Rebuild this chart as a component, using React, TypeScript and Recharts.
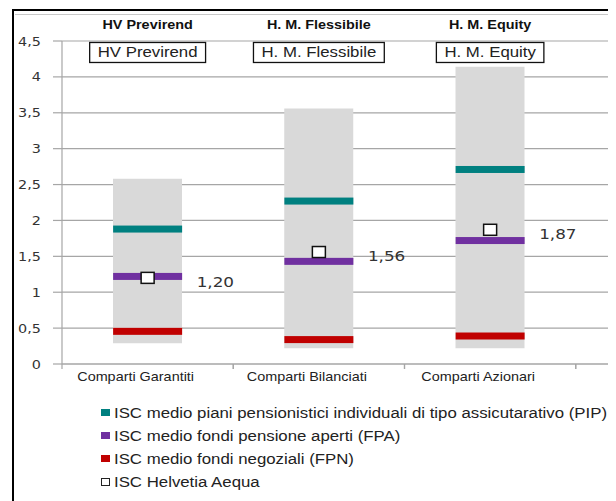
import React from 'react'
import { ComposedChart, Bar, Line, XAxis, YAxis, CartesianGrid, Legend, ReferenceDot } from 'recharts'

// data
const categories = ['Comparti Garantiti', 'Comparti Bilanciati', 'Comparti Azionari', '']
const funds = ['HV Previrend', 'H. M. Flessibile', 'H. M. Equity', '']
const rangeLow = [0.29, 0.22, 0.22, null]
const rangeHigh = [2.58, 3.56, 4.14, null]
const pip = [1.88, 2.27, 2.71, null]
const fpa = [1.22, 1.43, 1.72, null]
const fpn = [0.455, 0.34, 0.39, null]
const aequa = [1.2, 1.56, 1.87, null]
const yTicks = [0, 0.5, 1, 1.5, 2, 2.5, 3, 3.5, 4, 4.5]
const boxLevel = 4.34

const legendItems = [
  { name: 'ISC medio piani pensionistici individuali di tipo assicutarativo (PIP)', color: '#008080' },
  { name: 'ISC medio fondi pensione aperti (FPA)', color: '#7030A0' },
  { name: 'ISC medio fondi negoziali (FPN)', color: '#C00000' },
  { name: 'ISC Helvetia Aequa', color: '#FFFFFF', outline: true },
]

const data = categories.map((name, i) => ({
  name,
  fund: funds[i],
  range: rangeLow[i] == null ? null : [rangeLow[i], rangeHigh[i]],
  pip: pip[i],
  fpa: fpa[i],
  fpn: fpn[i],
  aequa: aequa[i],
}))

const CHART_W = 740
const CHART_H = 493
const Y_W = 54
const MARGIN = { top: 0, right: 1, bottom: 0, left: 0 }
const BAND = (CHART_W - MARGIN.left - MARGIN.right - Y_W) / categories.length
const BAR_W = 69
const GRID = '#A6A6A6'
const SX = 1.2 // the source picture is stretched sideways
const SANS = '"Liberation Sans", Arial, sans-serif'
const VERD = '"DejaVu Sans", Verdana, sans-serif'

const comma = (v: number, d?: number) => (d == null ? String(v) : v.toFixed(d)).replace('.', ',')

let ctx: CanvasRenderingContext2D | null = null
function textWidth(t: string, font: string) {
  if (!ctx) ctx = document.createElement('canvas').getContext('2d')
  if (!ctx) return t.length * 7
  ctx.font = font
  return ctx.measureText(t).width
}

function SText({ x, y, anchor = 'start', children, ...rest }: any) {
  return (
    <text transform={`translate(${x},${y}) scale(${SX},1)`} textAnchor={anchor} {...rest}>
      {children}
    </text>
  )
}

const YTick = ({ x, y, payload }: any) => (
  <SText x={x} y={y + 4.5} anchor="end" fontFamily={VERD} fontSize={12} fill="#333">
    {comma(payload.value)}
  </SText>
)

const BottomTick = ({ x, y, payload }: any) => (
  <g>
    <line x1={x - BAND / 2} x2={x - BAND / 2} y1={y} y2={y + 5} stroke={GRID} strokeWidth={1.2} />
    <line x1={x + BAND / 2} x2={x + BAND / 2} y1={y} y2={y + 5} stroke={GRID} strokeWidth={1.2} />
    <SText x={x - 12} y={y + 17} anchor="middle" fontFamily={SANS} fontSize={12} fill="#222">
      {payload.value}
    </SText>
  </g>
)

const TopTick = ({ x, y, payload }: any) => (
  <SText x={x} y={y} anchor="middle" fontFamily={SANS} fontSize={12} fontWeight="bold" fill="#111">
    {payload.value}
  </SText>
)

const markerDot = (color: string) => (props: any) => {
  const { cx, cy, index } = props
  if (cx == null || cy == null || props.value == null) return <g key={`m-${index}`} />
  return <rect key={`m-${index}`} x={cx - BAR_W / 2} y={cy - 3.5} width={BAR_W} height={7} fill={color} />
}

const aequaDot = (props: any) => {
  const { cx, cy, index } = props
  if (cx == null || cy == null || props.value == null) return <g key={`a-${index}`} />
  return <rect key={`a-${index}`} x={cx - 6.5} y={cy - 5.5} width={13} height={11} fill="#fff" stroke="#111" strokeWidth={1.5} />
}

const AequaLabel = (props: any) => {
  const { x, y, value } = props
  if (value == null) return null
  return (
    <SText x={x + 49} y={y + 9} fontFamily={VERD} fontSize={14} fill="#333">
      {comma(value, 2)}
    </SText>
  )
}

const FundBox = (name: string) => (props: any) => {
  const { cx, cy } = props
  const w = textWidth(name, `14px ${SANS}`) * SX + 16
  return (
    <g>
      <rect x={cx - w / 2} y={cy - 10} width={w} height={20} fill="#fff" stroke="#111" strokeWidth={1.3} />
      <SText x={cx} y={cy + 5} anchor="middle" fontFamily={SANS} fontSize={14} fill="#222">
        {name}
      </SText>
    </g>
  )
}

const LegendContent = () => (
  <div style={{ height: 100, fontFamily: SANS, fontSize: 14, color: '#222' }}>
    {legendItems.map((it) => (
      <div key={it.name} style={{ height: 23, display: 'flex', alignItems: 'center' }}>
        <span
          style={{
            display: 'inline-block',
            width: it.outline ? 7 : 9,
            height: it.outline ? 6 : 7,
            background: it.color,
            border: it.outline ? '1px solid #222' : 'none',
            marginRight: it.outline ? 4 : 4,
          }}
        />
        <span style={{ display: 'inline-block', whiteSpace: 'nowrap', transform: `scaleX(${SX})`, transformOrigin: 'left center' }}>
          {it.name}
        </span>
      </div>
    ))}
  </div>
)

export default function App() {
  return (
    <div style={{ position: 'relative', width: 608, height: CHART_H, overflow: 'hidden' }}>
      <div style={{ position: 'absolute', left: 4, top: 1, width: 1.5, height: 600, background: '#000' }} />
      <div style={{ position: 'absolute', left: 4, top: 1, width: 700, height: 1.5, background: '#000' }} />
      <div style={{ position: 'absolute', left: 7, top: 5.5, width: 700, height: 1.5, background: '#C8C8C8' }} />
      <div style={{ position: 'absolute', left: 0, top: 0 }}>
        <ComposedChart width={CHART_W} height={CHART_H} data={data} margin={MARGIN}>
          <CartesianGrid vertical={false} stroke={GRID} strokeWidth={1.2} />
          <XAxis
            dataKey="name"
            height={37}
            stroke={GRID}
            strokeWidth={1.2}
            tickLine={false}
            tickSize={0}
            tickMargin={0}
            tick={<BottomTick />}
            interval={0}
          />
          <XAxis
            xAxisId="top"
            dataKey="fund"
            orientation="top"
            height={33}
            axisLine={false}
            tickLine={false}
            tickSize={0}
            tickMargin={12}
            tick={<TopTick />}
            interval={0}
          />
          <YAxis
            width={Y_W}
            domain={[0, 4.5]}
            ticks={yTicks}
            stroke={GRID}
            strokeWidth={1.2}
            tickSize={9}
            tickMargin={12}
            tick={<YTick />}
            interval={0}
          />
          <Bar dataKey="range" fill="#D9D9D9" barSize={BAR_W} isAnimationActive={false} legendType="none" />
          <Line dataKey="pip" stroke="none" dot={markerDot('#008080')} activeDot={false} isAnimationActive={false} legendType="none" />
          <Line dataKey="fpa" stroke="none" dot={markerDot('#7030A0')} activeDot={false} isAnimationActive={false} legendType="none" />
          <Line dataKey="fpn" stroke="none" dot={markerDot('#C00000')} activeDot={false} isAnimationActive={false} legendType="none" />
          <Line
            dataKey="aequa"
            stroke="none"
            dot={aequaDot}
            activeDot={false}
            label={<AequaLabel />}
            isAnimationActive={false}
            legendType="none"
          />
          {funds.slice(0, 3).map((f, i) => (
            <ReferenceDot key={f} x={categories[i]} y={boxLevel} r={0} ifOverflow="visible" shape={FundBox(f)} />
          ))}
          <Legend verticalAlign="bottom" align="left" wrapperStyle={{ left: 93, width: 520 }} content={<LegendContent />} />
        </ComposedChart>
      </div>
    </div>
  )
}
